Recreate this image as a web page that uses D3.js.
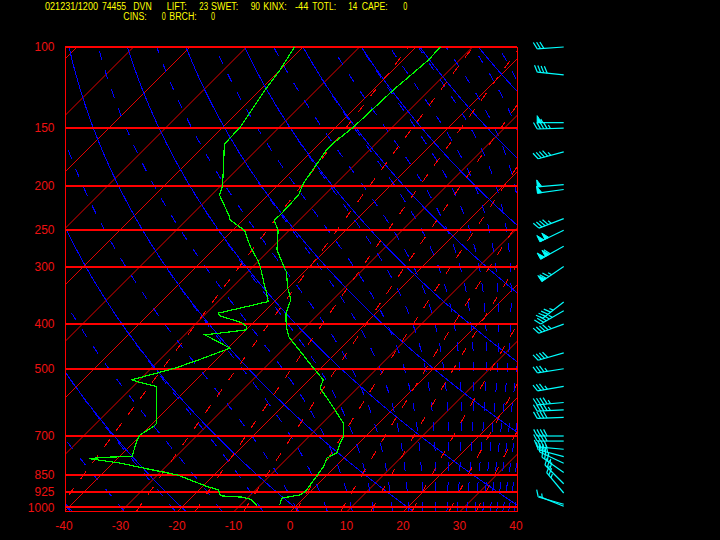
<!DOCTYPE html>
<html><head><meta charset="utf-8">
<script src="https://cdn.jsdelivr.net/npm/d3@7/dist/d3.min.js"></script>
<style>html,body{margin:0;padding:0;background:#000;}svg{display:block;}</style>
</head><body>
<svg id="c" width="720" height="540"></svg>
<script>
// ---------------- DATA ----------------
const isobars = [100,150,200,250,300,400,500,700,850,925,1000];
const tempTicks = [-40,-30,-20,-10,0,10,20,30,40];
const isotherms = [-130,-120,-110,-100,-90,-80,-70,-60,-50,-40,-30,-20,-10,0,10,20,30,40];
const dryAdiabats = [-60,-40,-20,0,20,40,60,80,100,120,140,160,180,200];      // theta, degC
const moistAdiabats = [-40,-30,-20,-10,0,10,20,30,40,50,60,70,80,90,100,110,120,130,140,150,160,170,180,190]; // theta-e, degC
const mixingRatios = [0.1,0.4,1,2,4,7,10,16,24,32]; // g/kg

const tempP = [100,106.7,124,149.4,161.8,167.4,197.7,209.6,231.6,237.5,250.6,275.9,300,307.6,334.2,354.3,378.7,401.5,425.7,498.5,528.6,551,598.9,656.3,701.8,725.4,760.3,781.9,815.5,924,939.4,955,991];
const tempT = [-55.7,-55.5,-56.4,-56.9,-57.6,-57.6,-55.8,-54.6,-54.3,-54.5,-51.9,-48.7,-44.5,-43.2,-40.0,-37.4,-35.9,-33.8,-31.3,-21.3,-17.5,-16.6,-11.6,-6.3,-3.9,-3.3,-2.2,-3.0,-2.1,-0.9,-1.2,-3.9,-3.0];

const dewP = [100,112.2,124,149.4,157.9,162.7,181.9,200.1,209.6,233.6,237.5,247.6,251.8,271.4,292.6,300,334.2,339.9,357.3,378.7,383.8,396.9,404.9,411.6,422.1,451.1,478.3,498.5,528.6,533.1,541.9,546.6,656.3,667.5,695.9,713.5,775.6,777.9,783.4,788.5,801.6,821.9,850,901.2,916.2,944.1,950.3,959.8,990];
const dewT = [-81.5,-80.0,-79.1,-76.9,-76.8,-76.7,-72.9,-69.7,-68.6,-63.0,-62.3,-58.8,-57.6,-54.0,-49.9,-48.7,-44.0,-43.2,-41.1,-47.9,-47.1,-42.1,-40.5,-39.9,-46.4,-39.6,-43.1,-45.8,-51.4,-50.2,-47.3,-45.8,-39.3,-39.3,-40.2,-39.8,-37.8,-41.5,-45.1,-43.4,-38.7,-33.7,-26.6,-19.2,-16.6,-15.2,-11.2,-9.3,-7.0];

const windP   = [100,115,146,150,169,199,204,236,250,271,300,358,374,400,462,500,546,592,614,638,700,718,748,776,802,840,889,931,985,995];
const windDir = [266,276,270,268,255,265,262,249,244,241,236,232,240,250,254,261,260,265,267,268,270,270,275,285,295,305,315,320,286,292];
const windSpd = [30,40,55,45,45,50,50,45,100,110,75,45,45,45,40,35,35,45,45,40,40,40,40,40,35,35,30,25,10,5];

const header1 = ["021231/1200","74455","DVN","LIFT:","23","SWET:","90","KINX:","-44","TOTL:","14","CAPE:","0"];
const header2 = ["CINS:","0","BRCH:","0"];

// ---------------- LAYOUT ----------------
const L = 65, R = 517, T0 = 47, B = 511;
const header1Pos = [[45,53],[102,24],[133.3,18.4],[166.7,20],[199.3,8.7],[211,27.3],[250.7,9.3],[263.3,23.4],[295,13.3],[312.3,23.7],[348.3,9],[361.7,26],[403.3,4]];
const header2Pos = [[123.3,23.4],[161.7,4],[169.3,27.4],[211,4]];

const svg = d3.select('#c');
svg.append('rect').attr('width',720).attr('height',540).attr('fill','#000');

const y = d3.scaleLog().domain([100,1000]).range([47,507.3]);
const x = d3.scaleLinear().domain([-40,40]).range([L,R]);
const sx = (T,p) => x(T) + (B - y(p));
const pBot = y.invert(B);
const pLevels = d3.range(0,121).map(i => pBot*Math.pow(100/pBot, i/120));

svg.append('defs').append('clipPath').attr('id','clip')
  .append('rect').attr('x',L).attr('y',T0).attr('width',R-L).attr('height',B-T0);

const g = svg.append('g').attr('clip-path','url(#clip)');
const line = d3.line().x(d=>d[0]).y(d=>d[1]);

// isotherms
g.selectAll('.iso').data(isotherms).enter().append('line')
  .attr('x1',d=>sx(d,pBot)).attr('y1',B).attr('x2',d=>sx(d,100)).attr('y2',T0)
  .attr('stroke','#ff0000').attr('stroke-width',0.9);

const gc = g.append('g').attr('shape-rendering','crispEdges');
// dry adiabats
gc.selectAll('.dry').data(dryAdiabats).enter().append('path')
  .attr('d',th => line(pLevels.map(p => {const t=(th+273.15)*Math.pow(p/1000,0.286)-273.15; return [sx(t,p),y(p)];})))
  .attr('fill','none').attr('stroke','#0000ff').attr('stroke-width',1);

// moist adiabats
function es(tc){return 6.112*Math.exp(17.67*tc/(tc+243.5));}
function thetaE(TK,p){const e=es(TK-273.15); if(e>0.5*p) return 1e9; const rs=0.622*e/(p-e); return TK*Math.pow(1000/p,0.286)*Math.exp(2.5e6*rs/(1004*TK));}
function moistT(te,p){let lo=120,hi=330;for(let i=0;i<50;i++){const m=(lo+hi)/2; if(thetaE(m,p)>te) hi=m; else lo=m;} return (lo+hi)/2-273.15;}
gc.selectAll('.moist').data(moistAdiabats).enter().append('path')
  .attr('d',te => line(pLevels.map(p => {const t=moistT(te+273.15,p); return [sx(t,p),y(p)];})))
  .attr('fill','none').attr('stroke','#0000ff').attr('stroke-width',1).attr('stroke-dasharray','9,11');

// mixing ratio lines
function mixT(w,p){const e=(w/1000)*p/(0.622+w/1000); const l=Math.log(e/6.112); return 243.5*l/(17.67-l);}
gc.selectAll('.mix').data(mixingRatios).enter().append('path')
  .attr('d',w => line(pLevels.map(p => [sx(mixT(w,p),p),y(p)])))
  .attr('fill','none').attr('stroke','#ff0000').attr('stroke-width',1).attr('stroke-dasharray','9,11');

// isobars
const gi = svg.append('g').attr('shape-rendering','crispEdges');
gi.selectAll('.isob').data(isobars).enter().append('line')
  .attr('x1',L).attr('x2',R).attr('y1',d=>Math.round(y(d))).attr('y2',d=>Math.round(y(d)))
  .attr('stroke','#ff0000').attr('stroke-width',2);
// frame
gi.append('rect').attr('x',L+0.5).attr('y',T0+0.5).attr('width',R-L).attr('height',B-T0)
  .attr('fill','none').attr('stroke','#ff0000').attr('stroke-width',1);

// labels
svg.selectAll('.plab').data(isobars).enter().append('text')
  .attr('x',54.5).attr('y',d=>y(d)+4.3).attr('text-anchor','end')
  .attr('font-family','Liberation Sans, Arial, sans-serif').attr('font-size',12).attr('fill','#ee1111')
  .text(d=>d);
svg.selectAll('.tlab').data(tempTicks).enter().append('text')
  .attr('x',d=>x(d)-1).attr('y',529.5).attr('text-anchor','middle')
  .attr('font-family','Liberation Sans, Arial, sans-serif').attr('font-size',12).attr('fill','#ee1111')
  .text(d=>d);

// profiles
const gp = svg.append('g').attr('clip-path','url(#clip)').attr('shape-rendering','crispEdges');
gp.append('path').attr('d',line(tempP.map((p,i)=>[sx(tempT[i],p),y(p)])))
  .attr('fill','none').attr('stroke','#00ff00').attr('stroke-width',1.2);
gp.append('path').attr('d',line(dewP.map((p,i)=>[sx(dewT[i],p),y(p)])))
  .attr('fill','none').attr('stroke','#00ff00').attr('stroke-width',1.2);

// wind barbs
const gw = svg.append('g');
const bx = 563.7;
function rot(v,a){const c=Math.cos(a),s=Math.sin(a);return [v[0]*c-v[1]*s, v[0]*s+v[1]*c];}
windP.forEach((p,i)=>{
  const by = y(p);
  const r = windDir[i]*Math.PI/180;
  const s = [Math.sin(r), -Math.cos(r)];
  const t = rot(s, 62*Math.PI/180);
  const f = rot(s, 90*Math.PI/180);
  const len = 26.5, bl = 7.5, step = 3.3;
  const at = d => [bx+s[0]*d, by+s[1]*d];
  gw.append('path').attr('d',line([at(0),at(len)])).attr('stroke','#00ffff').attr('stroke-width',1.2).attr('fill','none');
  let rem = Math.round(windSpd[i]/5)*5, d = len;
  while(rem>=50){
    const A=at(d), C=at(d-4.5), Bp=[A[0]+f[0]*7, A[1]+f[1]*7];
    gw.append('path').attr('d',line([A,Bp,C])+'Z').attr('fill','#00ffff').attr('stroke','#00ffff').attr('stroke-width',1);
    d -= 5.5; rem -= 50;
  }
  while(rem>=10){
    const A=at(d);
    gw.append('path').attr('d',line([A,[A[0]+t[0]*bl,A[1]+t[1]*bl]])).attr('stroke','#00ffff').attr('stroke-width',1.2);
    d -= step; rem -= 10;
  }
  if(rem>=5){
    if(d===len) d -= step;
    const A=at(d);
    gw.append('path').attr('d',line([A,[A[0]+t[0]*bl*0.55,A[1]+t[1]*bl*0.55]])).attr('stroke','#00ffff').attr('stroke-width',1.2);
  }
});

// header
const hf = 'Liberation Sans, Arial, sans-serif';
header1.forEach((s,i)=>{
  svg.append('text').attr('x',header1Pos[i][0]).attr('y',9.8).attr('textLength',header1Pos[i][1])
    .attr('lengthAdjust','spacingAndGlyphs').attr('font-family',hf).attr('font-size',10).attr('fill','#ffff00').text(s);
});
header2.forEach((s,i)=>{
  svg.append('text').attr('x',header2Pos[i][0]).attr('y',20.3).attr('textLength',header2Pos[i][1])
    .attr('lengthAdjust','spacingAndGlyphs').attr('font-family',hf).attr('font-size',10).attr('fill','#ffff00').text(s);
});
</script>
</body></html>
